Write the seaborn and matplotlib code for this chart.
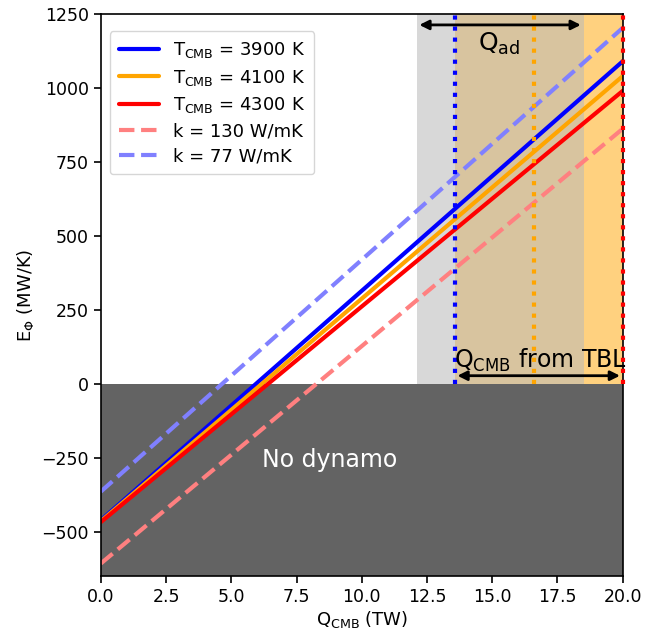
import matplotlib
matplotlib.use("Agg")
import matplotlib.pyplot as plt
import seaborn as sns
import pandas as pd

# Data
q_range = [0.0, 20.0]
labels = [r"T$_{\mathrm{CMB}}$ = 3900 K", r"T$_{\mathrm{CMB}}$ = 4100 K", r"T$_{\mathrm{CMB}}$ = 4300 K",
          "k = 130 W/mK", "k = 77 W/mK"]
e_start = [-462, -465, -468, -608, -365]
e_end = [1090, 1040, 990, 862, 1203]
colors = ["#0000ff", "#ffa500", "#ff0000", "#ff8080", "#8080ff"]
styles = ["-", "-", "-", "--", "--"]

qad_span = [12.1, 18.5]
tbl_span = [13.56, 20.0]
vlines_x = [13.56, 16.6, 20.0]
vlines_c = ["#0000ff", "#ffa500", "#ff0000"]

rows = []
for lab, a, b in zip(labels, e_start, e_end):
    rows.append({"Q": q_range[0], "E": a, "series": lab})
    rows.append({"Q": q_range[1], "E": b, "series": lab})
df = pd.DataFrame(rows)

sns.set_style("ticks")
plt.rcParams['font.family'] = ['DejaVu Sans']
plt.rcParams['text.color'] = 'black'
plt.rcParams['axes.labelcolor'] = 'black'
plt.rcParams['xtick.color'] = 'black'
plt.rcParams['ytick.color'] = 'black'
plt.rcParams['axes.edgecolor'] = 'black'

fig = plt.figure(figsize=(6.46, 6.35), dpi=100)
ax = fig.add_axes([0.156, 0.093, 0.808, 0.885])

ax.axvspan(tbl_span[0], tbl_span[1], color="#ffa500", alpha=0.5, lw=0, zorder=0.5)
ax.axvspan(qad_span[0], qad_span[1], color=(0.729, 0.729, 0.729), alpha=0.554, lw=0, zorder=0.6)
ax.axhspan(-650, 0, color="#636363", zorder=1, lw=0)

vl = ax.vlines(vlines_x, 0, 1250, colors=vlines_c, linestyles=":", lw=3, zorder=5)
vl.set_clip_on(False)

for lab, col, ls in zip(labels, colors, styles):
    sub = df[df["series"] == lab]
    sns.lineplot(data=sub, x="Q", y="E", ax=ax, color=col, lw=3, ls=ls,
                 label=lab, zorder=2, dashes=(4, 2) if ls == "--" else None)

ax.set_xlim(0, 20)
ax.set_ylim(-650, 1250)
ax.set_xticks([0, 2.5, 5, 7.5, 10, 12.5, 15, 17.5, 20])
ax.set_xticklabels(["0.0", "2.5", "5.0", "7.5", "10.0", "12.5", "15.0", "17.5", "20.0"])
ax.set_yticks([-500, -250, 0, 250, 500, 750, 1000, 1250])
ax.tick_params(labelsize=12.5, direction="out", length=5, width=1.2, colors="black")
for s in ax.spines.values():
    s.set_linewidth(1.2)
    s.set_color("black")
    s.set_zorder(4)

ax.set_xlabel(r"Q$_{\mathrm{CMB}}$ (TW)", fontsize=13, labelpad=2)
ax.set_ylabel(r"E$_{\Phi}$ (MW/K)", fontsize=13, labelpad=4)

ax.text(8.77, -257, "No dynamo", color="white", fontsize=17, ha="center", va="center", zorder=5)

ax.annotate("", xy=(qad_span[0], 1213), xytext=(qad_span[1], 1213),
            arrowprops=dict(arrowstyle="<|-|>", lw=2, color="black", mutation_scale=14), zorder=6)
ax.text(15.25, 1150, r"Q$_{\mathrm{ad}}$", fontsize=18, ha="center", va="center", zorder=6)

ax.annotate("", xy=(tbl_span[0], 27), xytext=(tbl_span[1], 27),
            arrowprops=dict(arrowstyle="<|-|>", lw=2, color="black", mutation_scale=14), zorder=6)
ax.text(13.55, 80, r"Q$_{\mathrm{CMB}}$ from TBL", fontsize=17, ha="left", va="center", zorder=6)

leg = ax.legend(loc="upper left", fontsize=13, frameon=True, handlelength=2.2,
                borderpad=0.5, labelspacing=0.4, bbox_to_anchor=(0.0, 0.985))
leg.get_frame().set_edgecolor("#cccccc")
leg.set_zorder(7)

fig.savefig("out.png", dpi=100)
